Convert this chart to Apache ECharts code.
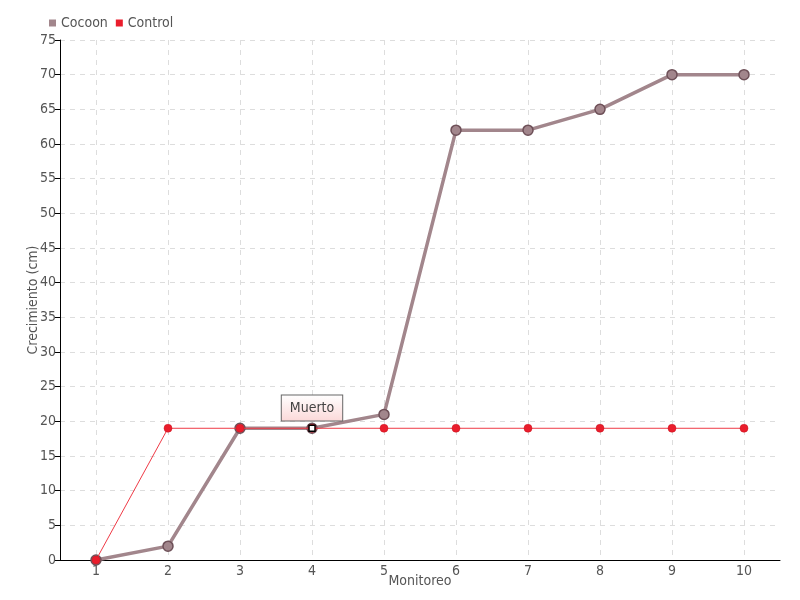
<!DOCTYPE html>
<html><head><meta charset="utf-8">
<script src="https://cdn.jsdelivr.net/npm/echarts@6/dist/echarts.min.js"></script>
<style>html,body{margin:0;padding:0;background:#fff}#c{width:800px;height:600px}</style>
</head><body><div id="c"></div>
<script>
const categories = ['1','2','3','4','5','6','7','8','9','10'];
const cocoon = [0, 2, 19, 19, 21, 62, 62, 65, 70, 70];
const control = [0, 19, 19, 19, 19, 19, 19, 19, 19, 19];
const yTicks = {min: 0, max: 75, interval: 5};
const FONT = '"Liberation Sans Narrow", "DejaVu Sans Condensed", "DejaVu Sans", sans-serif';

const chart = echarts.init(document.getElementById('c'));
chart.setOption({
  animation: false,
  textStyle: {fontFamily: FONT},
  legend: {
    left: 44, top: 11, itemWidth: 7, itemHeight: 7, itemGap: 8,
    icon: 'rect',
    itemStyle: {borderWidth: 0},
    textStyle: {fontFamily: FONT, fontSize: 14, color: '#555'},
    data: ['Cocoon', 'Control']
  },
  grid: [
    {left: 60, right: 20, top: 40, bottom: 40},
    // helper grid spanning first to last category centre, only for vertical grid lines
    {left: 96, right: 56, top: 40, bottom: 40}
  ],
  xAxis: [{
    gridIndex: 0,
    type: 'category', data: categories, boundaryGap: true,
    name: 'Monitoreo', nameLocation: 'middle', nameGap: 14, nameMoveOverlap: false,
    nameTextStyle: {fontFamily: FONT, fontSize: 14, color: '#555'},
    axisLine: {lineStyle: {color: '#000', width: 1}},
    axisTick: {alignWithLabel: true, length: 5, lineStyle: {color: '#000'}},
    axisLabel: {fontFamily: FONT, fontSize: 14, color: '#555', margin: 4},
    splitLine: {show: false}
  }, {
    gridIndex: 1,
    type: 'category', data: categories, boundaryGap: false,
    axisLine: {show: false}, axisTick: {show: false}, axisLabel: {show: false},
    splitLine: {show: true, lineStyle: {color: '#ddd', type: [5, 5]}}
  }],
  yAxis: [{
    gridIndex: 0,
    type: 'value', min: yTicks.min, max: yTicks.max, interval: yTicks.interval,
    name: 'Crecimiento (cm)', nameLocation: 'middle', nameGap: 20, nameMoveOverlap: false,
    nameTextStyle: {fontFamily: FONT, fontSize: 14, color: '#555'},
    axisLine: {show: true, lineStyle: {color: '#000', width: 1}},
    axisTick: {show: true, length: 5, lineStyle: {color: '#000'}},
    axisLabel: {fontFamily: FONT, fontSize: 14, color: '#555', margin: 4},
    splitLine: {show: true, lineStyle: {color: '#ddd', type: [5, 5]}}
  }, {
    gridIndex: 1, type: 'value', min: yTicks.min, max: yTicks.max, show: false,
    splitLine: {show: false}
  }],
  series: [
    {
      name: 'Cocoon', type: 'line', data: cocoon,
      symbol: 'circle', symbolSize: 10,
      color: '#a2868c',
      lineStyle: {color: '#a2868c', width: 3.5},
      itemStyle: {color: '#a2868c', borderColor: '#6e5058', borderWidth: 1.5},
      z: 2
    },
    {
      name: 'Control', type: 'line', data: control,
      symbol: 'circle', symbolSize: 8,
      color: '#ea1d2c',
      lineStyle: {color: '#ef3a46', width: 1},
      itemStyle: {color: '#ea1d2c', borderColor: '#c8101c', borderWidth: 0.5},
      z: 3,
      markPoint: {
        symbol: 'rect', symbolSize: 6,
        itemStyle: {color: '#fff', borderColor: '#000', borderWidth: 1.5},
        label: {
          show: true, position: 'top', distance: 4,
          formatter: 'Muerto',
          fontFamily: FONT, fontSize: 14, color: '#444',
          backgroundColor: {
            type: 'linear', x: 0, y: 0, x2: 0, y2: 1,
            colorStops: [{offset: 0, color: '#fff'}, {offset: 1, color: '#fbd8d8'}]
          },
          borderColor: '#666', borderWidth: 1,
          padding: [6, 8, 5, 8]
        },
        data: [{coord: ['4', 19]}]
      }
    }
  ]
});
</script></body></html>
